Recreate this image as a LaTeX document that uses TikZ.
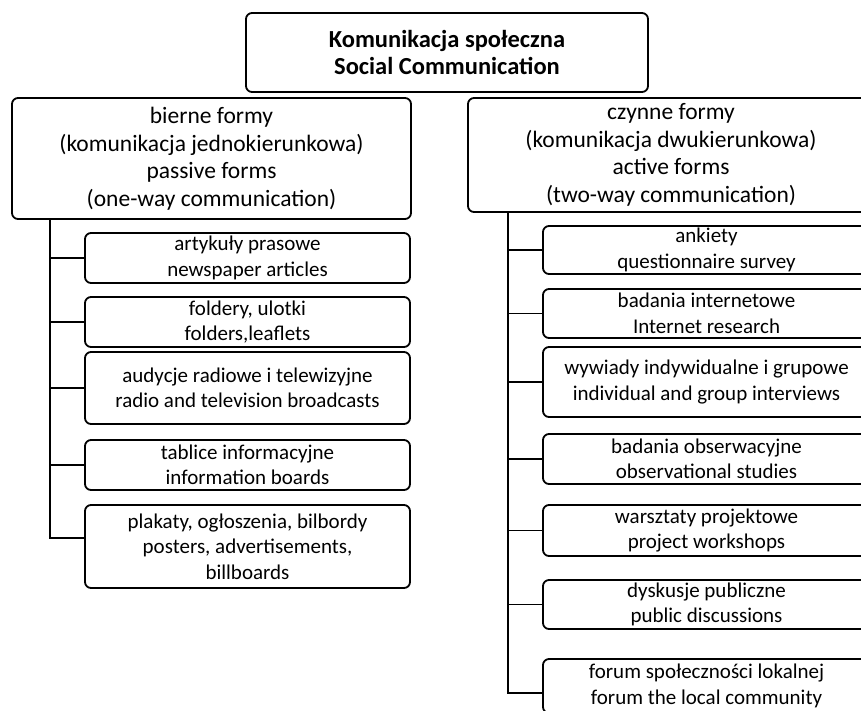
\documentclass[tikz,border=0pt]{standalone}
\usepackage{fontspec}
\setmainfont{Carlito}
\begin{document}
\begin{tikzpicture}[x=1pt,y=-1pt,
  box/.style={draw=black,line width=1.8pt,rounded corners=6pt,align=center,inner sep=0pt,fill=white},
  titlebox/.style={box,font=\fontsize{24.5}{27}\selectfont\bfseries},
  parentbox/.style={box,font=\fontsize{23.5}{27.5}\selectfont},
  childbox/.style={box,font=\fontsize{21}{25.5}\selectfont},
  conn/.style={line width=1.8pt}]
\useasboundingbox (0,0) rectangle (861,710);
\fill[white] (0,0) rectangle (861,710);
% top
\node[titlebox,minimum width=402pt,minimum height=79pt] (top) at (447,52.5) {Komunikacja społeczna\\Social Communication};
% parents
\node[parentbox,minimum width=399pt,minimum height=121pt] (lp) at (211.5,158.5) {bierne formy\\(komunikacja jednokierunkowa)\\passive forms\\(one-way communication)};
\node[parentbox,minimum width=406pt,minimum height=114pt] (rp) at (671,155) {czynne formy\\(komunikacja dwukierunkowa)\\active forms\\(two-way communication)};
% left children
\node[childbox,minimum width=325pt,minimum height=50pt] (l1) at (247.5,258) {artykuły prasowe\\newspaper articles};
\node[childbox,minimum width=325pt,minimum height=50pt] (l2) at (247.5,322) {foldery, ulotki\\folders,leaflets};
\node[childbox,minimum width=325pt,minimum height=72pt] (l3) at (247.5,388) {audycje radiowe i telewizyjne\\radio and television broadcasts};
\node[childbox,minimum width=325pt,minimum height=50pt] (l4) at (247.5,465) {tablice informacyjne\\information boards};
\node[childbox,minimum width=325pt,minimum height=83pt] (l5) at (247.5,546.5) {plakaty, ogłoszenia, bilbordy\\posters, advertisements,\\billboards};
% right children
\node[childbox,minimum width=327pt,minimum height=48pt] (r1) at (706.5,250) {ankiety\\questionnaire survey};
\node[childbox,minimum width=327pt,minimum height=49pt] (r2) at (706.5,313.5) {badania internetowe\\Internet research};
\node[childbox,minimum width=327pt,minimum height=70pt] (r3) at (706.5,382) {wywiady indywidualne i grupowe\\individual and group interviews};
\node[childbox,minimum width=327pt,minimum height=50pt] (r4) at (706.5,459) {badania obserwacyjne\\observational studies};
\node[childbox,minimum width=327pt,minimum height=51pt] (r5) at (706.5,530.5) {warsztaty projektowe\\project workshops};
\node[childbox,minimum width=327pt,minimum height=49pt] (r6) at (706.5,604.5) {dyskusje publiczne\\public discussions};
\node[childbox,minimum width=327pt,minimum height=54pt] (r7) at (706.5,686) {forum społeczności lokalnej\\forum the local community};
% trunks
\coordinate (lt) at (50,219);
\coordinate (rt) at (508,212);
\coordinate (b5) at ([yshift=8.5pt]l5.west);
\coordinate (b7) at ([yshift=-7pt]r7.west);
\draw[conn] (lt) -- (lt |- b5) -- (b5);
\foreach \n in {l1,l2,l3,l4} \draw[conn] (lt |- \n.west) -- (\n.west);
\draw[conn] (rt) -- (rt |- b7) -- (b7);
\foreach \n in {r1,r2,r3,r4,r5,r6} \draw[conn] (rt |- \n.west) -- (\n.west);
\end{tikzpicture}
\end{document}
